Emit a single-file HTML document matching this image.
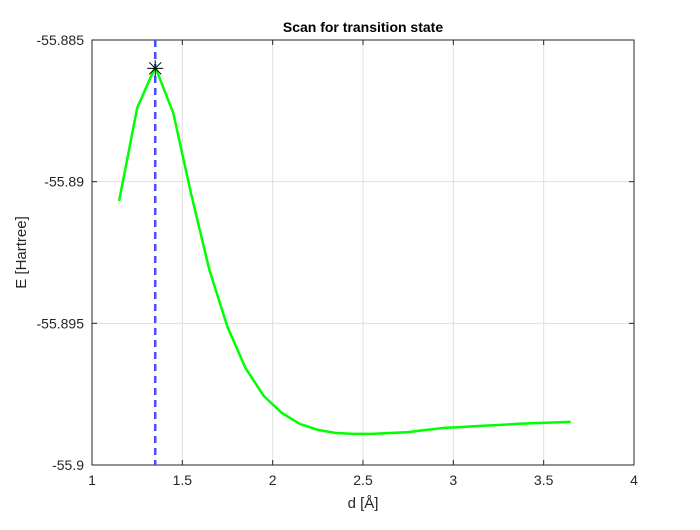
<!DOCTYPE html>
<html><head><meta charset="utf-8"><style>
body{margin:0;background:#fff;}
text{font-family:"Liberation Sans",sans-serif;}
</style></head><body>
<svg id="chart" width="700" height="525"></svg>
<script>
const xs=[1.15,1.25,1.35,1.45,1.55,1.65,1.75,1.85,1.95,2.05,2.15,2.25,2.35,2.45,2.55,2.65,2.75,2.85,2.95,3.05,3.15,3.25,3.35,3.45,3.55,3.65];
const ys=[-55.89068,-55.8874,-55.88595,-55.88758,-55.89047,-55.89312,-55.89513,-55.89658,-55.89756,-55.89816,-55.89855,-55.89876,-55.89887,-55.8989,-55.8989,-55.89887,-55.89884,-55.89876,-55.89869,-55.89866,-55.89862,-55.89859,-55.89855,-55.89852,-55.8985,-55.89848];
const xTicks=[1,1.5,2,2.5,3,3.5,4];
const xTickLabels=["1","1.5","2","2.5","3","3.5","4"];
const yTicks=[-55.885,-55.89,-55.895,-55.9];
const yTickLabels=["-55.885","-55.89","-55.895","-55.9"];
const tsX=[1.35];const tsY=[-55.886];
const L=92,R=634,T=40,B=465;
const X=v=>L+(v-1)/(4-1)*(R-L);
const Y=v=>T+(-55.885-v)/(0.015)*(B-T);
const svg=document.getElementById('chart');const NS='http://www.w3.org/2000/svg';
function mk(t,a,p){const e=document.createElementNS(NS,t);for(const k in a)e.setAttribute(k,a[k]);(p||svg).appendChild(e);return e;}
let e=mk('rect',{x:L,y:T,width:R-L,height:B-T,fill:'#fff'});


xTicks.forEach((t,i)=>{
 let g=mk('line',{x1:X(t),x2:X(t),y1:T,y2:B,stroke:'#dfdfdf','stroke-width':1});
 
 
 mk('line',{x1:X(t),x2:X(t),y1:B,y2:B-5,stroke:'#262626'});
 mk('line',{x1:X(t),x2:X(t),y1:T,y2:T+5,stroke:'#262626'});
 let tx=mk('text',{x:X(t),y:B+20,'text-anchor':'middle','font-size':14,fill:'#262626'});tx.textContent=xTickLabels[i];
 
 
});
yTicks.forEach((t,i)=>{
 let g=mk('line',{x1:L,x2:R,y1:Y(t),y2:Y(t),stroke:'#dfdfdf','stroke-width':1});
 
 
 mk('line',{x1:L,x2:L+5,y1:Y(t),y2:Y(t),stroke:'#262626'});
 mk('line',{x1:R,x2:R-5,y1:Y(t),y2:Y(t),stroke:'#262626'});
 let tx=mk('text',{x:L-8,y:Y(t)+5,'text-anchor':'end','font-size':14,fill:'#262626'});tx.textContent=yTickLabels[i];
 
 
});
e=mk('rect',{x:L,y:T,width:R-L,height:B-T,fill:'none',stroke:'#262626','stroke-width':1});


e=mk('line',{x1:X(tsX[0]),x2:X(tsX[0]),y1:T,y2:B,stroke:'#4a4aff','stroke-width':2.5,'stroke-dasharray':'7,5'});


e=mk('polyline',{points:xs.map((x,i)=>X(x)+','+Y(ys[i])).join(' '),fill:'none',stroke:'#00ff00','stroke-width':2.5});


const mx=X(tsX[0]),my=Y(tsY[0]);
const mg=mk('g',{stroke:'#000','stroke-width':1});


mk('line',{x1:mx-8,x2:mx+8,y1:my,y2:my},mg);mk('line',{x1:mx,x2:mx,y1:my-8,y2:my+8},mg);
mk('line',{x1:mx-6,x2:mx+6,y1:my-6,y2:my+6},mg);mk('line',{x1:mx-6,x2:mx+6,y1:my+6,y2:my-6},mg);
e=mk('text',{x:(L+R)/2,y:T-8,'text-anchor':'middle','font-size':14,'font-weight':'bold',fill:'#000'});e.textContent='Scan for transition state';


e=mk('text',{x:(L+R)/2,y:B+43,'text-anchor':'middle','font-size':15,fill:'#262626'});e.textContent='d [Å]';


e=mk('text',{x:26,y:(T+B)/2,'text-anchor':'middle','font-size':15,fill:'#262626',transform:'rotate(-90 26 '+((T+B)/2)+')'});e.textContent='E [Hartree]';


</script>
</body></html>
